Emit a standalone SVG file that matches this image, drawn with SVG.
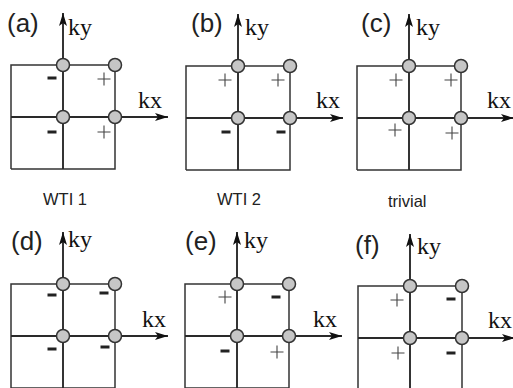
<svg xmlns="http://www.w3.org/2000/svg" xmlns:xlink="http://www.w3.org/1999/xlink" width="513" height="388" viewBox="0 0 513 388">
  <style>
    .frame { fill: none; stroke: #333; stroke-width: 1.5; }
    .axis { fill: none; stroke: #2a2a2a; stroke-width: 1.9; }
    .pt { fill: #c6c6c6; stroke: #333; stroke-width: 1.5; }
    .lbl { font-family: "Liberation Sans", Arial, sans-serif; font-size: 26px; fill: #222; }
    .k { font-family: "Liberation Serif", "Times New Roman", serif; font-size: 24px; fill: #111; }
    .cap { font-family: "Liberation Sans", Arial, sans-serif; font-size: 16.5px; fill: #222; }
    .plus { fill: none; stroke: #444; stroke-width: 1.1; }
    .minus { fill: #222; }
  </style>
  <defs>
    <marker id="tip" markerUnits="userSpaceOnUse" markerWidth="14" markerHeight="10" refX="13" refY="4" orient="auto">
      <path d="M0,0 L13,4 L0,8 L3,4 z" fill="#111"/>
    </marker>
    <!-- Brillouin-zone grid: frame, kx/ky axes and the four high-symmetry points -->
    <g id="zone">
      <path class="frame" d="M-52,52 V-52 H52 V52 H-52"/>
      <line class="axis" x1="0" y1="52" x2="0" y2="-104" marker-end="url(#tip)"/>
      <line class="axis" x1="-52" y1="0" x2="105" y2="0" marker-end="url(#tip)"/>
      <circle class="pt" cx="0" cy="-52" r="6.5"/>
      <circle class="pt" cx="52" cy="-52" r="6.5"/>
      <circle class="pt" cx="0" cy="0" r="6.5"/>
      <circle class="pt" cx="52" cy="0" r="6.5"/>
    </g>
    <path id="p" class="plus" d="M-6.5,0 H6.5 M0,-6.5 V6.5"/>
    <rect id="m" class="minus" x="-4.5" y="-1.5" width="9" height="3"/>
  </defs>

  <!-- (a) WTI 1 -->
  <g id="panel-a" transform="translate(63,117)">
    <use xlink:href="#zone"/>
    <text class="lbl" x="-56" y="-85">(a)</text>
    <text class="k" x="5" y="-82">ky</text>
    <text class="k" x="75" y="-9">kx</text>
    <use xlink:href="#m" x="-11" y="-39"/>
    <use xlink:href="#p" x="41" y="-38"/>
    <use xlink:href="#m" x="-11" y="15"/>
    <use xlink:href="#p" x="41" y="15"/>
  </g>

  <!-- (b) WTI 2 -->
  <g id="panel-b" transform="translate(238,118)">
    <use xlink:href="#zone"/>
    <text class="lbl" x="-47" y="-86">(b)</text>
    <text class="k" x="7" y="-83">ky</text>
    <text class="k" x="78" y="-10">kx</text>
    <use xlink:href="#p" x="-13" y="-38"/>
    <use xlink:href="#p" x="40" y="-38"/>
    <use xlink:href="#m" x="-12" y="14"/>
    <use xlink:href="#m" x="43" y="14"/>
  </g>

  <!-- (c) trivial -->
  <g id="panel-c" transform="translate(409,118)">
    <use xlink:href="#zone"/>
    <text class="lbl" x="-48" y="-86">(c)</text>
    <text class="k" x="7" y="-83">ky</text>
    <text class="k" x="78" y="-10">kx</text>
    <use xlink:href="#p" x="-13" y="-38"/>
    <use xlink:href="#p" x="42" y="-38"/>
    <use xlink:href="#p" x="-14" y="12"/>
    <use xlink:href="#p" x="43" y="15"/>
  </g>

  <!-- (d) -->
  <g id="panel-d" transform="translate(63,336)">
    <use xlink:href="#zone"/>
    <text class="lbl" x="-52" y="-86">(d)</text>
    <text class="k" x="5" y="-89">ky</text>
    <text class="k" x="79" y="-9">kx</text>
    <use xlink:href="#m" x="-11" y="-41"/>
    <use xlink:href="#m" x="41" y="-43"/>
    <use xlink:href="#m" x="-11" y="13"/>
    <use xlink:href="#m" x="42" y="11"/>
  </g>

  <!-- (e) -->
  <g id="panel-e" transform="translate(237,336)">
    <use xlink:href="#zone"/>
    <text class="lbl" x="-52" y="-86">(e)</text>
    <text class="k" x="7" y="-88">ky</text>
    <text class="k" x="76" y="-9">kx</text>
    <use xlink:href="#p" x="-12" y="-39"/>
    <use xlink:href="#m" x="39" y="-39"/>
    <use xlink:href="#m" x="-12" y="15"/>
    <use xlink:href="#p" x="40" y="16"/>
  </g>

  <!-- (f) -->
  <g id="panel-f" transform="translate(410,338)">
    <use xlink:href="#zone"/>
    <text class="lbl" x="-55" y="-84">(f)</text>
    <text class="k" x="7" y="-84">ky</text>
    <text class="k" x="78" y="-10">kx</text>
    <use xlink:href="#p" x="-13" y="-38"/>
    <use xlink:href="#m" x="41" y="-39"/>
    <use xlink:href="#p" x="-12" y="15"/>
    <use xlink:href="#m" x="41" y="15"/>
  </g>

  <!-- phase captions -->
  <g id="captions">
    <text class="cap" x="43" y="205">WTI 1</text>
    <text class="cap" x="217" y="205">WTI 2</text>
    <text class="cap" x="388" y="207">trivial</text>
  </g>
</svg>
